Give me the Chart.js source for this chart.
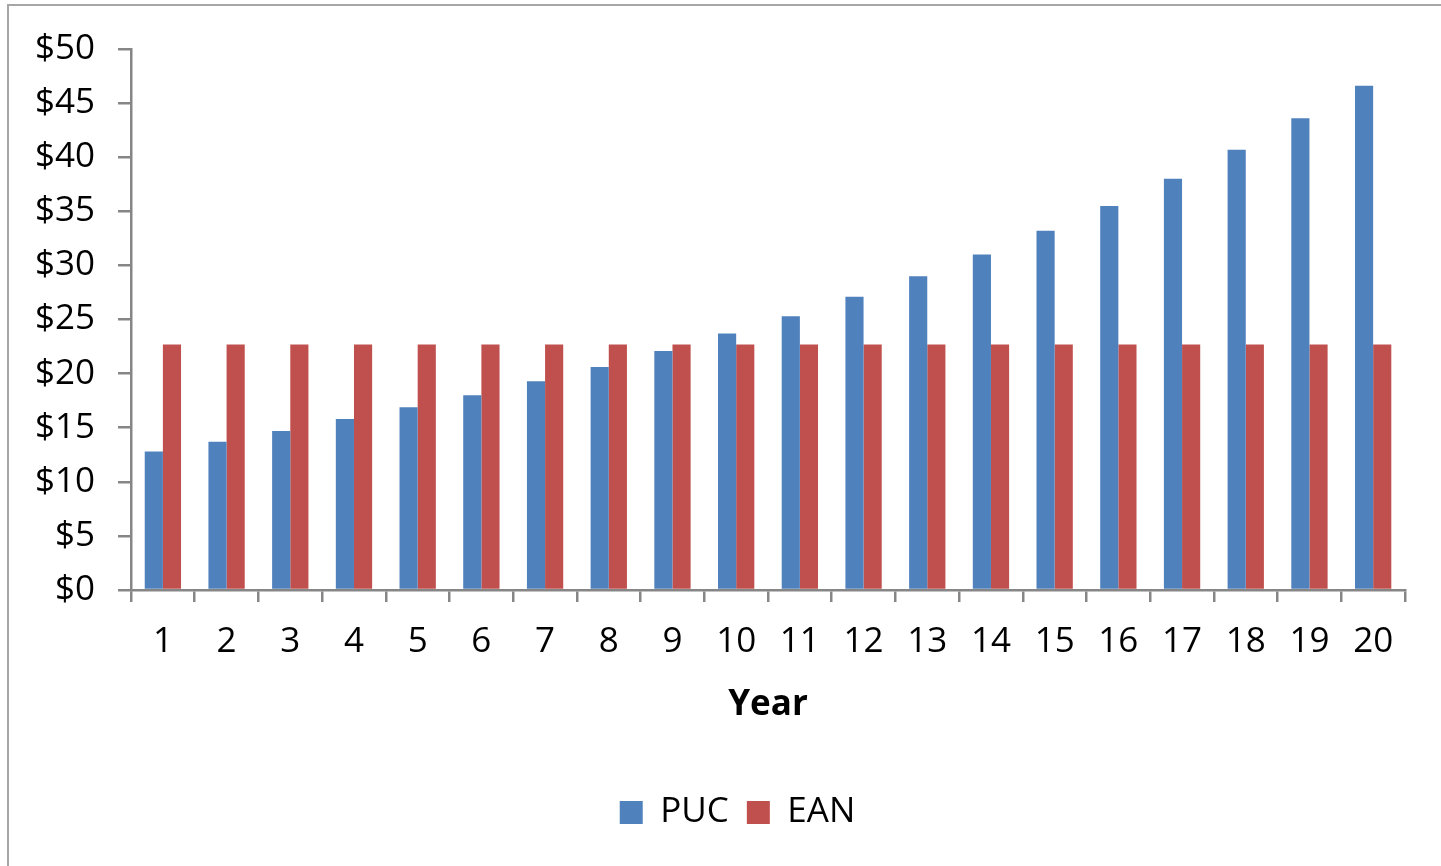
<!DOCTYPE html>
<html>
<head>
<meta charset="utf-8">
<script src="https://cdn.jsdelivr.net/npm/chart.js@4"></script>
<style>
  html, body { margin: 0; padding: 0; background: #fff; overflow: hidden; }
  #frame {
    position: absolute; left: 7px; top: 4px;
    width: 1460px; height: 900px;
    border: 2px solid #a6a6a6;
  }
  #wrap { position: absolute; left: 0; top: 0; width: 1441px; height: 866px; }
</style>
</head>
<body>
<div id="frame"></div>
<div id="wrap"><canvas id="chart"></canvas></div>
<script>
// Year-by-year cost, PUC vs EAN
const years = ['1', '2', '3', '4', '5', '6', '7', '8', '9', '10',
  '11', '12', '13', '14', '15', '16', '17', '18', '19', '20'];
const pucValues = [12.8, 13.7, 14.7, 15.8, 16.9, 18.0, 19.3, 20.6, 22.1, 23.7,
  25.3, 27.1, 29.0, 31.0, 33.2, 35.5, 38.0, 40.7, 43.6, 46.6];
const eanValues = [22.7, 22.7, 22.7, 22.7, 22.7, 22.7, 22.7, 22.7, 22.7, 22.7,
  22.7, 22.7, 22.7, 22.7, 22.7, 22.7, 22.7, 22.7, 22.7, 22.7];

const PUC_COLOR = '#4f81bd';
const EAN_COLOR = '#c0504d';
const AXIS_COLOR = '#868686';
const FONT = "'Open Sans', sans-serif";
const FONT_SIZE = 35;

// legend sits a bit right of the plot centre in the original
const legendShift = {
  id: 'legendShift',
  afterLayout(chart) {
    chart.legend.left += 29;
    chart.legend.right += 29;
  },
};

const ctx = document.getElementById('chart').getContext('2d');

new Chart(ctx, {
  type: 'bar',
  data: {
    labels: years,
    datasets: [
      {
        label: 'PUC',
        data: pucValues,
        backgroundColor: PUC_COLOR,
        categoryPercentage: 0.57,
        barPercentage: 1,
      },
      {
        label: 'EAN',
        data: eanValues,
        backgroundColor: EAN_COLOR,
        categoryPercentage: 0.57,
        barPercentage: 1,
      },
    ],
  },
  options: {
    responsive: true,
    maintainAspectRatio: false,
    animation: false,
    layout: { padding: { left: 12, right: 36, top: 49, bottom: 26 } },
    plugins: {
      tooltip: { enabled: false },
      legend: {
        position: 'bottom',
        labels: {
          color: '#000',
          boxWidth: 23,
          boxHeight: 23,
          padding: 18,
          font: { family: FONT, size: FONT_SIZE },
        },
      },
    },
    scales: {
      x: {
        offset: true,
        grid: {
          offset: true,
          drawOnChartArea: false,
          drawTicks: true,
          tickLength: 12,
          color: AXIS_COLOR,
          lineWidth: 2.5,
        },
        border: { color: AXIS_COLOR, width: 2.5 },
        ticks: {
          color: '#000',
          padding: 19,
          maxRotation: 0,
          font: { family: FONT, size: FONT_SIZE },
        },
        title: {
          display: true,
          text: 'Year',
          color: '#000',
          padding: { top: 2, bottom: 51 },
          font: { family: FONT, size: FONT_SIZE, weight: 'bold' },
        },
      },
      y: {
        min: 0,
        max: 50,
        grid: {
          drawOnChartArea: false,
          drawTicks: true,
          tickLength: 13,
          color: AXIS_COLOR,
          lineWidth: 2.5,
        },
        border: { color: AXIS_COLOR, width: 2.5 },
        ticks: {
          stepSize: 5,
          color: '#000',
          padding: 23,
          font: { family: FONT, size: FONT_SIZE },
          callback: (v) => `$${v}`,
        },
      },
    },
  },
  plugins: [legendShift],
});
</script>
</body>
</html>
